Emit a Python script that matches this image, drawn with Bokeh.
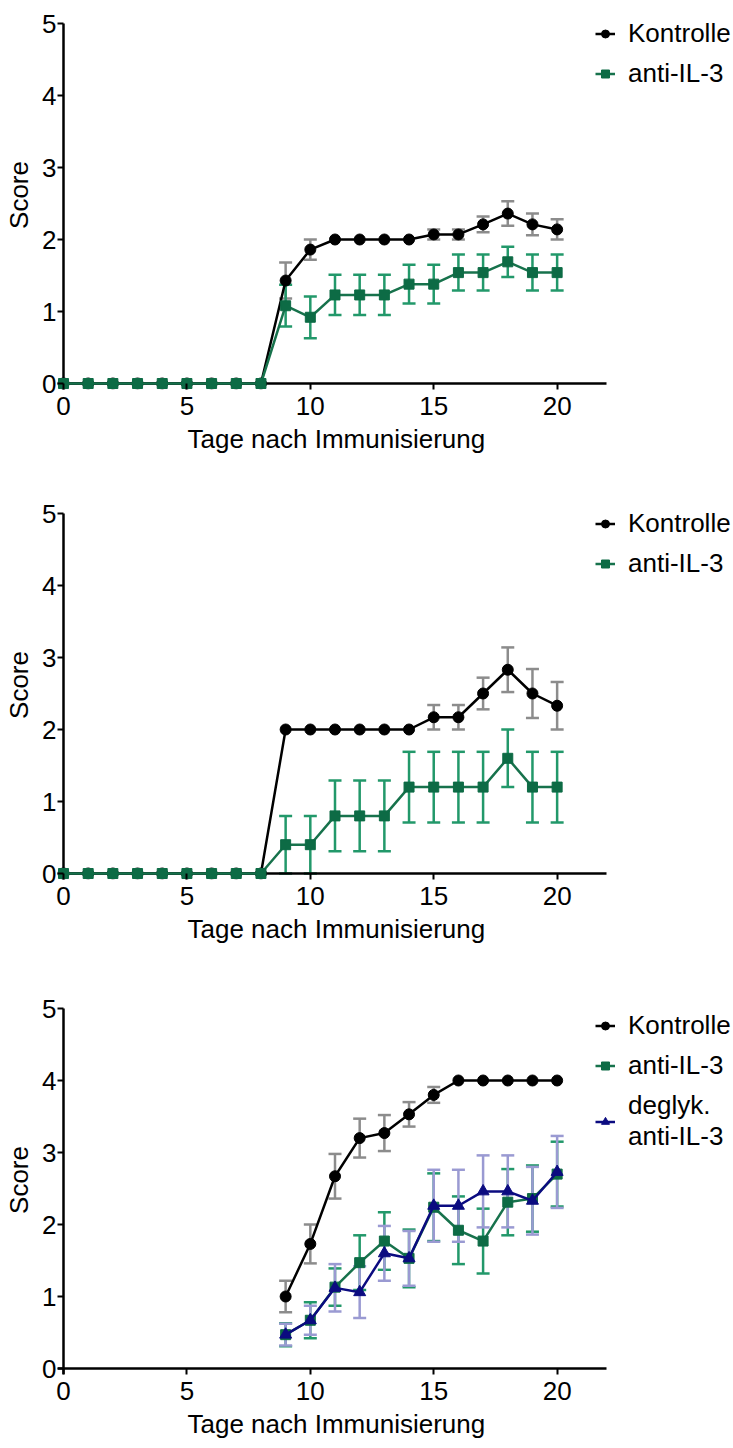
from bokeh.plotting import figure
from bokeh.models import (ColumnDataSource, Whisker, TeeHead, FixedTicker,
                          Legend, LegendItem, Range1d, Title)
from bokeh.layouts import column
from bokeh.embed import file_html
from bokeh.resources import INLINE

# ---------------- data ----------------
days = list(range(0, 21))
days3 = list(range(9, 21))

p1_kontrolle = [0, 0, 0, 0, 0, 0, 0, 0, 0, 1.43, 1.86, 2.0, 2.0, 2.0, 2.0, 2.07, 2.07, 2.21, 2.36, 2.21, 2.14]
p1_kontrolle_sem = [0, 0, 0, 0, 0, 0, 0, 0, 0, 0.25, 0.14, 0, 0, 0, 0, 0.07, 0.07, 0.11, 0.17, 0.15, 0.14]
p1_anti = [0, 0, 0, 0, 0, 0, 0, 0, 0, 1.08, 0.92, 1.23, 1.23, 1.23, 1.38, 1.38, 1.54, 1.54, 1.69, 1.54, 1.54]
p1_anti_sem = [0, 0, 0, 0, 0, 0, 0, 0, 0, 0.29, 0.29, 0.28, 0.28, 0.28, 0.27, 0.27, 0.25, 0.25, 0.21, 0.25, 0.25]

p2_kontrolle = [0, 0, 0, 0, 0, 0, 0, 0, 0, 2.0, 2.0, 2.0, 2.0, 2.0, 2.0, 2.17, 2.17, 2.5, 2.83, 2.5, 2.33]
p2_kontrolle_sem = [0, 0, 0, 0, 0, 0, 0, 0, 0, 0, 0, 0, 0, 0, 0, 0.17, 0.17, 0.22, 0.31, 0.34, 0.33]
p2_anti = [0, 0, 0, 0, 0, 0, 0, 0, 0, 0.4, 0.4, 0.8, 0.8, 0.8, 1.2, 1.2, 1.2, 1.2, 1.6, 1.2, 1.2]
p2_anti_sem = [0, 0, 0, 0, 0, 0, 0, 0, 0, 0.4, 0.4, 0.49, 0.49, 0.49, 0.49, 0.49, 0.49, 0.49, 0.4, 0.49, 0.49]

p3_kontrolle = [1.0, 1.73, 2.67, 3.2, 3.27, 3.53, 3.8, 4.0, 4.0, 4.0, 4.0, 4.0]
p3_kontrolle_sem = [0.22, 0.27, 0.31, 0.27, 0.25, 0.17, 0.11, 0, 0, 0, 0, 0]
p3_anti = [0.47, 0.67, 1.13, 1.47, 1.77, 1.53, 2.24, 1.92, 1.77, 2.31, 2.36, 2.70]
p3_anti_sem = [0.16, 0.25, 0.26, 0.38, 0.40, 0.40, 0.47, 0.47, 0.45, 0.46, 0.46, 0.45]
p3_deglyk = [0.47, 0.67, 1.12, 1.06, 1.60, 1.53, 2.26, 2.26, 2.46, 2.46, 2.33, 2.73]
p3_deglyk_sem = [0.15, 0.20, 0.33, 0.36, 0.38, 0.38, 0.50, 0.50, 0.50, 0.50, 0.47, 0.50]

x_ticks = [0, 5, 10, 15, 20]
y_ticks = [0, 1, 2, 3, 4, 5]
x_max = 22
y_max = 5

label_kontrolle = "Kontrolle"
label_anti = "anti-IL-3"
label_deglyk = "deglyk.\nanti-IL-3"
x_title = "Tage nach Immunisierung"
y_title = "Score"

# ---------------- style ----------------
FONT = "Liberation Sans"
FS = "26px"
W = 733
B_L = 57          # left border (frame starts GAP px left of x=0)
GAP = 6           # px between frame edge and the zero lines
PX_X = 543 / 22   # px per day
PX_Y = 72         # px per score unit
TOP_SPACE = 23    # px above y = 5 (inside frame, for legend)
TITLE_OFFSET = 130

K_LINE, K_ERR = "#000000", "#8c8c8c"
G_LINE, G_MARK, G_ERR = "#17724c", "#0d6b45", "#22986a"
B_LINE, B_ERR = "#0b0b80", "#9a9ad2"


def add_series(p, x, y, e, line_color, mark_color, err_color, marker, size):
    keep = [i for i in range(len(x)) if e[i] > 0]
    src = ColumnDataSource(dict(
        x=[x[i] for i in keep],
        upper=[y[i] + e[i] for i in keep],
        lower=[y[i] - e[i] for i in keep]))
    w = Whisker(source=src, base="x", upper="upper", lower="lower",
                line_color=err_color, line_width=2.5, level="underlay",
                upper_head=TeeHead(size=13, line_color=err_color, line_width=2.5),
                lower_head=TeeHead(size=13, line_color=err_color, line_width=2.5))
    p.add_layout(w)
    ln = p.line(x, y, line_color=line_color, line_width=2.5)
    sc = p.scatter(x, y, marker=marker, size=size, fill_color=mark_color,
                   line_color=mark_color)
    return [ln, sc]


def make_panel(height, series, legend_labels, legend_bottom):
    frame_h = TOP_SPACE + y_max * PX_Y + GAP
    b_b = height - frame_h
    xpad = GAP / PX_X
    ypad = GAP / PX_Y
    x_end = x_max + (W - B_L - GAP - x_max * PX_X) / PX_X
    y_end = y_max + TOP_SPACE / PX_Y
    p = figure(width=W, height=height, output_backend="svg", toolbar_location=None,
               x_range=Range1d(-xpad, x_end), y_range=Range1d(-ypad, y_end),
               min_border_left=B_L, min_border_right=0, min_border_top=0,
               min_border_bottom=int(round(b_b)))
    p.outline_line_color = None
    p.xgrid.visible = False
    p.ygrid.visible = False
    p.background_fill_color = "white"
    p.border_fill_color = "white"

    # axis lines crossing at the origin
    p.segment(x0=[-xpad, 0], y0=[0, -ypad], x1=[x_max, 0], y1=[0, y_max],
              line_color="black", line_width=2.5)

    for ax, ticks in ((p.xaxis[0], x_ticks), (p.yaxis[0], y_ticks)):
        ax.ticker = FixedTicker(ticks=ticks)
        ax.axis_line_color = None
        ax.major_tick_in = GAP
        ax.major_tick_out = 0
        ax.major_tick_line_width = 2
        ax.major_tick_line_color = "black"
        ax.minor_tick_line_color = None
        ax.major_label_text_font = FONT
        ax.major_label_text_font_size = FS
        ax.major_label_text_color = "black"
        ax.axis_label_text_font = FONT
        ax.axis_label_text_font_size = FS
        ax.axis_label_text_font_style = "normal"
        ax.axis_label_text_color = "black"
    p.xaxis.bounds = (0, x_max)
    p.yaxis.bounds = (0, y_max)
    p.yaxis.axis_label = y_title
    p.xaxis.major_label_standoff = 7
    p.yaxis.major_label_standoff = 1
    p.yaxis.axis_label_standoff = 5

    # x-axis title centred under the drawn axis (0..22), not the whole frame
    p.add_layout(Title(text=x_title, align="left", offset=TITLE_OFFSET,
                       text_font=FONT, text_font_size=FS, text_font_style="normal",
                       text_color="black", standoff=9), "below")

    items = []
    for s, lab in zip(series, legend_labels):
        rs = add_series(p, *s)
        items.append(LegendItem(label=lab, renderers=rs))
    leg = Legend(items=items, location=(538, legend_bottom), padding=0, margin=0,
                 spacing=9, glyph_width=20, glyph_height=29, label_height=29,
                 label_standoff=13, border_line_color=None, background_fill_alpha=0,
                 label_text_font=FONT, label_text_font_size=FS,
                 label_text_color="black", label_text_line_height=0.9)
    p.add_layout(leg)
    return p


f1 = make_panel(490, [
    (days, p1_kontrolle, p1_kontrolle_sem, K_LINE, K_LINE, K_ERR, "circle", 11),
    (days, p1_anti, p1_anti_sem, G_LINE, G_MARK, G_ERR, "square", 10),
], [label_kontrolle, label_anti], 300)

f2 = make_panel(495, [
    (days, p2_kontrolle, p2_kontrolle_sem, K_LINE, K_LINE, K_ERR, "circle", 11),
    (days, p2_anti, p2_anti_sem, G_LINE, G_MARK, G_ERR, "square", 10),
], [label_kontrolle, label_anti], 300)

f3 = make_panel(463, [
    (days3, p3_kontrolle, p3_kontrolle_sem, K_LINE, K_LINE, K_ERR, "circle", 11),
    (days3, p3_anti, p3_anti_sem, G_LINE, G_MARK, G_ERR, "square", 10),
    (days3, p3_deglyk, p3_deglyk_sem, B_LINE, B_LINE, B_ERR, "triangle", 12),
], [label_kontrolle, label_anti, label_deglyk], 222)

layout = column(f1, f2, f3, spacing=0)
open("out.html", "w").write(file_html(layout, INLINE))
